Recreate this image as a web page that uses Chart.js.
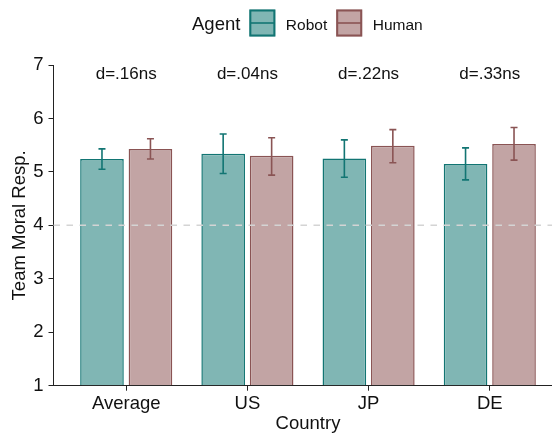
<!DOCTYPE html>
<html>
<head>
<meta charset="utf-8">
<script src="https://cdn.jsdelivr.net/npm/chart.js@4.4.1/dist/chart.umd.min.js"></script>
<style>
  html, body { margin: 0; padding: 0; background: #ffffff; overflow: hidden; }
  #wrap { width: 563px; height: 435px; }
</style>
</head>
<body>
<div id="wrap"><canvas id="chart" width="563" height="435"></canvas></div>
<script>
// Mean team moral responsibility by country and agent, with interval bounds
const countries = ['Average', 'US', 'JP', 'DE'];
const robotMean = [5.24, 5.34, 5.25, 5.15];
const robotLow  = [5.05, 4.97, 4.90, 4.85];
const robotHigh = [5.43, 5.71, 5.60, 5.45];
const humanMean = [5.43, 5.30, 5.49, 5.52];
const humanLow  = [5.24, 4.94, 5.17, 5.22];
const humanHigh = [5.62, 5.64, 5.79, 5.83];
const effectLabels = ['d=.16ns', 'd=.04ns', 'd=.22ns', 'd=.33ns'];
const yTicks = [1, 2, 3, 4, 5, 6, 7];
const scaleMidpoint = 4;

const FONT = '"Liberation Sans", Arial, Helvetica, sans-serif';
const INK = '#111111';
const ROBOT_FILL = '#80b6b4';
const ROBOT_LINE = '#127573';
const HUMAN_FILL = '#c2a4a4';
const HUMAN_LINE = '#8a5454';

const toPoints = (vals) => vals.map((v, i) => ({ x: i, y: v }));

// dashed reference line at the scale midpoint
const midLine = {
  id: 'midLine',
  afterDatasetsDraw(chart) {
    const { ctx, chartArea, scales } = chart;
    const y = scales.y.getPixelForValue(scaleMidpoint);
    ctx.save();
    ctx.strokeStyle = '#d4d4d4';
    ctx.lineWidth = 1.5;
    ctx.setLineDash([6.5, 6.5]);
    ctx.beginPath();
    ctx.moveTo(chartArea.left, y);
    ctx.lineTo(chartArea.right, y);
    ctx.stroke();
    ctx.restore();
  }
};

// vertical interval whiskers with caps on each bar
const whiskers = {
  id: 'whiskers',
  afterDatasetsDraw(chart) {
    const { ctx, scales } = chart;
    chart.data.datasets.forEach((ds, di) => {
      const meta = chart.getDatasetMeta(di);
      meta.data.forEach((bar, i) => {
        const yLo = scales.y.getPixelForValue(ds.low[i]);
        const yHi = scales.y.getPixelForValue(ds.high[i]);
        const x = bar.x;
        ctx.save();
        ctx.strokeStyle = ds.borderColor;
        ctx.lineWidth = 1.6;
        ctx.beginPath();
        ctx.moveTo(x, yLo); ctx.lineTo(x, yHi);
        ctx.moveTo(x - 3.5, yLo); ctx.lineTo(x + 3.5, yLo);
        ctx.moveTo(x - 3.5, yHi); ctx.lineTo(x + 3.5, yHi);
        ctx.stroke();
        ctx.restore();
      });
    });
  }
};

// effect size labels above each country group
const effectText = {
  id: 'effectText',
  afterDatasetsDraw(chart) {
    const { ctx, chartArea, scales } = chart;
    ctx.save();
    ctx.font = '17px ' + FONT;
    ctx.fillStyle = INK;
    ctx.textAlign = 'center';
    ctx.textBaseline = 'alphabetic';
    effectLabels.forEach((t, i) => {
      ctx.fillText(t, scales.x.getPixelForValue(i), chartArea.top + 14);
    });
    ctx.restore();
  }
};

// legend row: title followed by keys (filled box with a whisker stroke)
const agentLegend = {
  id: 'agentLegend',
  afterDraw(chart) {
    const { ctx } = chart;
    const baseline = 30;
    let x = 192;
    ctx.save();
    ctx.textBaseline = 'alphabetic';
    ctx.fillStyle = INK;
    ctx.font = '18.5px ' + FONT;
    ctx.fillText('Agent', x, baseline);
    x += ctx.measureText('Agent').width + 9;
    ctx.font = '15.5px ' + FONT;
    chart.data.datasets.forEach((ds) => {
      const bx = x, by = 9.5, bw = 26, bh = 27;
      ctx.fillStyle = ds.backgroundColor;
      ctx.fillRect(bx, by, bw, bh);
      ctx.strokeStyle = ds.borderColor;
      ctx.lineWidth = 2;
      ctx.strokeRect(bx + 1, by + 1, bw - 2, bh - 2);
      ctx.lineWidth = 1.6;
      ctx.beginPath();
      ctx.moveTo(bx + 1, by + bh / 2);
      ctx.lineTo(bx + bw - 1, by + bh / 2);
      ctx.stroke();
      x += bw + 10.5;
      ctx.fillStyle = INK;
      ctx.fillText(ds.label, x, baseline);
      x += ctx.measureText(ds.label).width + 9;
    });
    ctx.restore();
  }
};

new Chart(document.getElementById('chart'), {
  type: 'bar',
  data: {
    datasets: [
      {
        label: 'Robot',
        data: toPoints(robotMean),
        low: robotLow,
        high: robotHigh,
        backgroundColor: ROBOT_FILL,
        borderColor: ROBOT_LINE,
        borderWidth: 1.5,
        base: 1
      },
      {
        label: 'Human',
        data: toPoints(humanMean),
        low: humanLow,
        high: humanHigh,
        backgroundColor: HUMAN_FILL,
        borderColor: HUMAN_LINE,
        borderWidth: 1.5,
        base: 1
      }
    ]
  },
  options: {
    responsive: false,
    animation: false,
    devicePixelRatio: 1,
    categoryPercentage: 0.8,
    barPercentage: 0.9,
    layout: { padding: { top: 65, right: 0.5, bottom: 0, left: 0 } },
    plugins: {
      legend: { display: false },
      tooltip: { enabled: false }
    },
    scales: {
      x: {
        type: 'linear',
        offset: false,
        min: -0.6,
        max: 3.6,
        afterBuildTicks(scale) {
          scale.ticks = countries.map((_, i) => ({ value: i }));
        },
        afterFit(scale) { scale.height = 49.3; },
        ticks: {
          callback: (v) => countries[v],
          font: { family: FONT, size: 18.5 },
          color: INK,
          padding: 2,
          maxRotation: 0,
          autoSkip: false
        },
        grid: { offset: false, drawOnChartArea: false, drawTicks: true, tickLength: 5, color: '#222222', tickWidth: 1 },
        border: { display: true, color: '#222222', width: 1 },
        title: {
          display: true,
          text: 'Country',
          font: { family: FONT, size: 18.5 },
          color: INK,
          padding: { top: 0, bottom: 0 }
        }
      },
      y: {
        type: 'linear',
        min: 1,
        max: 7,
        afterBuildTicks(scale) {
          scale.ticks = yTicks.map((v) => ({ value: v }));
        },
        afterFit(scale) { scale.width = 53.5; },
        ticks: {
          font: { family: FONT, size: 18.5 },
          color: INK,
          padding: 5
        },
        grid: { drawOnChartArea: false, drawTicks: true, tickLength: 5, color: '#222222', tickWidth: 1 },
        border: { display: true, color: '#222222', width: 1 },
        title: {
          display: true,
          text: 'Team Moral Resp.',
          font: { family: FONT, size: 18.5 },
          color: INK,
          padding: { top: 9, bottom: 0 }
        }
      }
    }
  },
  plugins: [midLine, whiskers, effectText, agentLegend]
});
</script>
</body>
</html>
